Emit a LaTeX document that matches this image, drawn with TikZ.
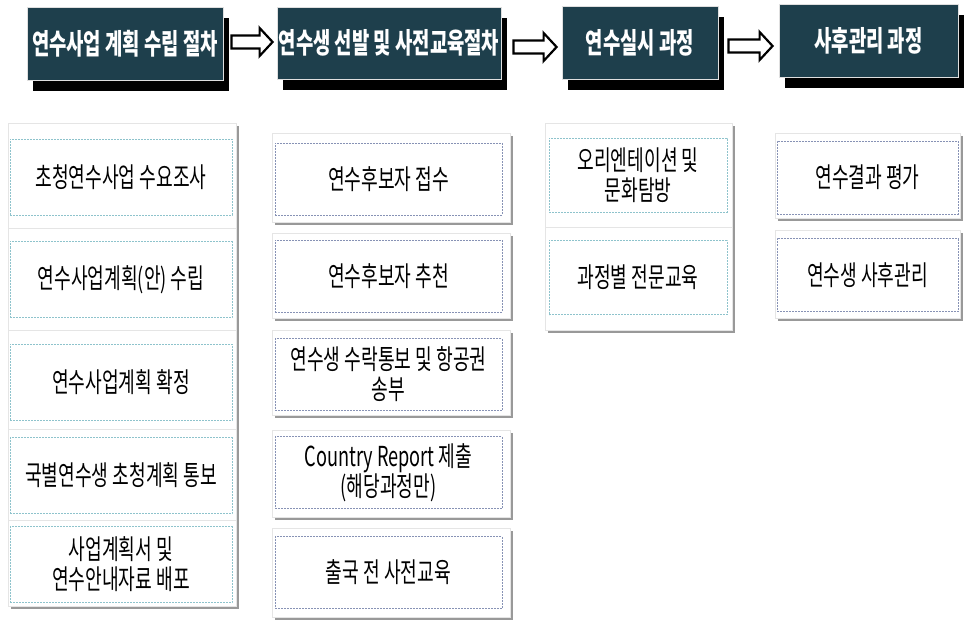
\documentclass[tikz,border=0pt]{standalone}
\usepackage{fontspec}
\newfontfamily\krfont[FakeStretch=0.66]{Noto Sans CJK KR}
\usetikzlibrary{shapes,arrows,positioning,calc,shadows}
\definecolor{headfill}{HTML}{1E3F4C}
\definecolor{dashteal}{HTML}{8EC3CC}
\definecolor{dashblue}{HTML}{8792B5}

\tikzset{
	head/.style={draw=gray!25, line width=0.8pt, fill=headfill, text=white, inner sep=0pt,
		font=\krfont\bfseries\fontsize{28.5}{32}\selectfont,
		drop shadow={shadow xshift=6pt, shadow yshift=-11pt, fill=black, opacity=1}},
	panel/.style={draw=gray!20, fill=white, inner sep=0pt,
		drop shadow={shadow xshift=3pt, shadow yshift=-3pt, fill=gray, opacity=0.8}},
	item/.style={draw=#1, dash pattern=on 2pt off 1pt, line width=0.8pt, inner sep=0pt,
		align=center, font=\krfont\fontsize{27.5}{30}\selectfont},
	fatarrow/.style={draw=black, line width=2.2pt, fill=white, line join=miter}
}

\begin{document}
\begin{tikzpicture}[x=1pt,y=-1pt]
	\useasboundingbox (0,0) rectangle (968,620);

	\node[head, minimum width=196, minimum height=73] (h1) at (125,43.5) {연수사업 계획 수립 절차};
	\node[head, minimum width=224, minimum height=72] (h2) at (389,43) {연수생 선발 및 사전교육절차};
	\node[head, minimum width=156, minimum height=73] (h3) at (640,42.5) {연수실시 과정};
	\node[head, minimum width=179, minimum height=73] (h4) at (868.5,40.5) {사후관리 과정};

	\foreach \a/\b/\s/\e/\dy in {h1/h2/8/4/-1.5, h2/h3/12/5/4, h3/h4/10/6/3.5}
		\draw[fatarrow] let \p1=($(\a.east)+(\s,\dy)$), \p2=($(\b.west)+(-\e,\dy)$) in
			(\x1,\y1+6.5pt) -- (\x2-13pt,\y1+6.5pt) -- (\x2-13pt,\y1+14pt) -- (\x2,\y1)
			-- (\x2-13pt,\y1-14pt) -- (\x2-13pt,\y1-6.5pt) -- (\x1,\y1-6.5pt) -- cycle;

	\foreach \n/\py/\ph/\sy/\txt in {a/175.5/105/177/초청연수사업 수요조사, b/279/102/279.5/연수사업계획(안) 수립,
		c/379.5/99/382/연수사업계획 확정, d/474.5/91/475.5/국별연수생 초청계획 통보,
		e/563/86/564.5/{사업계획서 및\\연수안내자료 배포}} {
		\node[panel, minimum width=228, minimum height=\ph] (p1\n) at (122,\py) {};
		\node[item=dashteal, minimum width=222, minimum height=76] (s1\n) at (121,\sy) {\txt};
	}

	\foreach \n/\py/\ph/\sy/\txt in {a/177.5/89/179/연수후보자 접수, b/275.5/85/276/연수후보자 추천,
		c/372.5/85/374.5/{연수생 수락통보 및 항공권\\송부}, d/473.5/87/472.5/{Country Report 제출\\(해당과정만)},
		e/572.5/89/572.5/출국 전 사전교육} {
		\node[panel, minimum width=238, minimum height=\ph] (p2\n) at (391,\py) {};
		\node[item=dashblue, minimum width=227, minimum height=72] (s2\n) at (388.5,\sy) {\txt};
	}

	\foreach \n/\py/\ph/\sy/\txt in {a/175/104/175/{오리엔테이션 및\\문화탐방}, b/278.5/103/277.5/과정별 전문교육} {
		\node[panel, minimum width=187, minimum height=\ph] (p3\n) at (638.5,\py) {};
		\node[item=dashteal, minimum width=178, minimum height=74] (s3\n) at (638,\sy) {\txt};
	}

	\foreach \n/\py/\ph/\sy/\txt in {a/175.5/85/177.5/연수결과 평가, b/274/88/275/연수생 사후관리} {
		\node[panel, minimum width=185, minimum height=\ph] (p4\n) at (867.5,\py) {};
		\node[item=dashblue, minimum width=181, minimum height=73] (s4\n) at (867.5,\sy) {\txt};
	}
\end{tikzpicture}
\end{document}
